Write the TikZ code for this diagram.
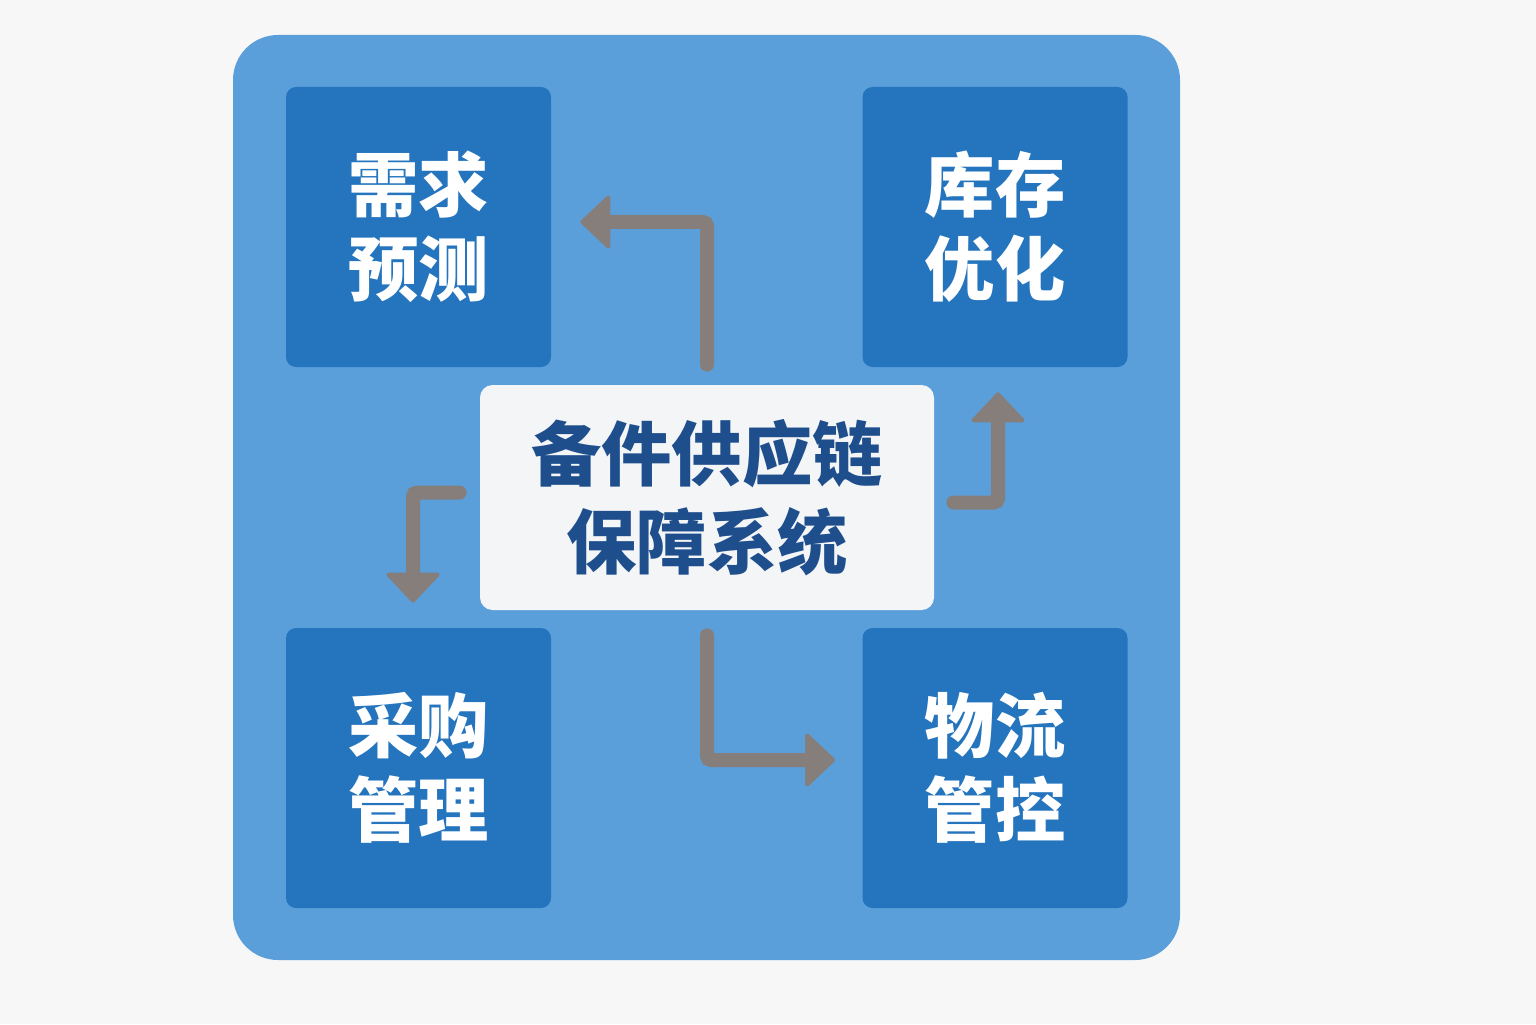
\documentclass[tikz,border=0pt]{standalone}
\usepackage{fontspec}
\newfontfamily\cjk{Noto Sans CJK SC}
\usetikzlibrary{arrows.meta}
\definecolor{pageBg}{HTML}{F7F7F7}
\definecolor{panelBlue}{HTML}{5B9FDA}
\definecolor{moduleBlue}{HTML}{2474BE}
\definecolor{hubFill}{HTML}{F3F5F7}
\definecolor{hubText}{HTML}{1E4E8C}
\definecolor{flowGray}{HTML}{857E7A}
\newcommand{\moduleWidth}{5.3cm}
\newcommand{\moduleHeight}{5.6cm}
\tikzset{
  sc base/.style={font=\cjk\bfseries},
  sc module/.style={rectangle, rounded corners=0.2cm, fill=moduleBlue,
    minimum width=\moduleWidth, minimum height=\moduleHeight,
    align=center, text=white, inner sep=0pt,
    font=\cjk\bfseries\fontsize{40pt}{48pt}\selectfont},
  sc hub/.style={rectangle, rounded corners=0.25cm, fill=hubFill,
    minimum width=9.08cm, minimum height=4.5cm,
    align=center, text=hubText, inner sep=0pt,
    font=\cjk\bfseries\fontsize{40pt}{50pt}\selectfont},
  sc flow/.style={draw=flowGray, line width=0.28cm, line cap=round,
    rounded corners=0.08cm,
    -{Triangle[length=0.62cm, width=1.15cm, line width=0.08cm, round]}},
}

\begin{document}
\begin{tikzpicture}[sc base]
\useasboundingbox [fill=pageBg] (0,0) rectangle (30.72,20.48);
\fill [panelBlue, rounded corners=0.9cm] (4.66,1.28) rectangle (23.6,19.78);

\node (demand)    [sc module] at (8.37,15.94) {需求\\预测};
\node (inventory) [sc module] at (19.9,15.94) {库存\\优化};
\node (purchase)  [sc module] at (8.37,5.12)  {采购\\管理};
\node (logistics) [sc module] at (19.9,5.12)  {物流\\管控};
\node (hub)       [sc hub]    at (14.14,10.53) {备件供应链\\保障系统};

\draw [sc flow, shorten <=0.4cm, shorten >=0.58cm]
  (hub.north) |- ([yshift=0.1cm]demand.east);
\draw [sc flow, shorten <=0.4cm, shorten >=0.5cm]
  ([yshift=0.1cm]hub.west) -| ([xshift=-0.11cm]purchase.north);
\draw [sc flow, shorten <=0.38cm, shorten >=0.5cm]
  ([yshift=-0.1cm]hub.east) -| ([xshift=0.06cm]inventory.south);
\draw [sc flow, shorten <=0.5cm, shorten >=0.54cm]
  (hub.south) |- ([yshift=0.16cm]logistics.west);
\end{tikzpicture}
\end{document}
